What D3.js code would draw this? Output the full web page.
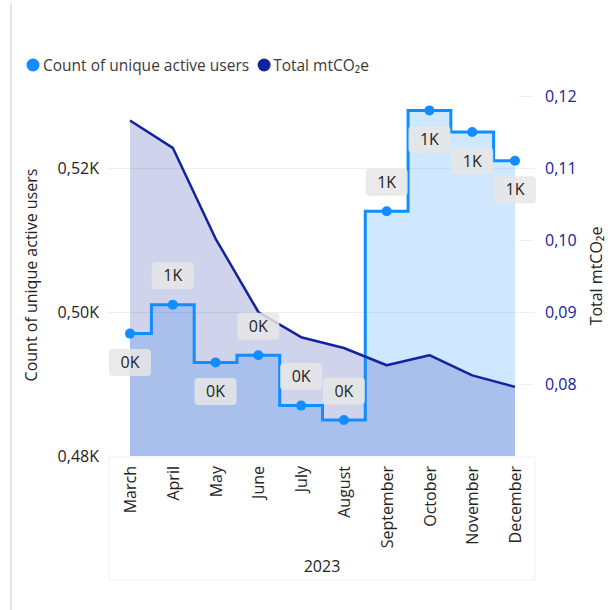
<!DOCTYPE html>
<html>
<head>
<meta charset="utf-8">
<script src="https://cdn.jsdelivr.net/npm/d3@7"></script>
<style>
  body { margin: 0; background: #fff; }
  svg { font-family: "Segoe UI", "Open Sans", sans-serif; }
</style>
</head>
<body>
<div id="chart"></div>
<script>
var width = 611,
  height = 610;

// data
var months = ["March", "April", "May", "June", "July", "August", "September", "October", "November", "December"];
var activeUsers = [497, 501, 493, 494, 487, 485, 514, 528, 525, 521];
var mtCO2e = [0.1166, 0.1128, 0.1002, 0.0900, 0.0865, 0.0850, 0.0826, 0.0840, 0.0812, 0.0796];
var yearLabel = "2023";
var leftTicks = [480, 500, 520];
var rightTicks = [0.08, 0.09, 0.10, 0.11, 0.12];
var seriesNames = ["Count of unique active users", "Total mtCO\u2082e"];

var labelSide = [1, -1, 1, -1, -1, -1, -1, 1, 1, 1]; // 1 = below point, -1 = above

var lightBlue = "#118DFF",
  navy = "#12239E";

var locale = d3.formatLocale({ decimal: ",", thousands: ".", grouping: [3], currency: ["", "€"] });
var f2 = locale.format(".2f");

var svg = d3.select("#chart").append("svg")
  .attr("width", width)
  .attr("height", height);

var x = d3.scalePoint().domain(months).range([130, 515]);
var yL = d3.scaleLinear().domain([480, 530]).range([456, 96]);
var yR = d3.scaleLinear().domain([0.07, 0.12]).range([456, 96]);

// frame bits
svg.append("line").attr("x1", 11).attr("x2", 11).attr("y1", 3).attr("y2", height)
  .attr("stroke", "#e6e6e6").attr("stroke-width", 2);
svg.append("rect").attr("x", 109).attr("y", 457).attr("width", 426).attr("height", 123)
  .attr("fill", "none").attr("stroke", "#f0f0f0").attr("stroke-width", 1);

// gridlines
svg.append("g").selectAll("line").data(leftTicks.slice(1)).enter().append("line")
  .attr("x1", 109).attr("x2", 535)
  .attr("y1", function (d) { return yL(d) + 0.5; }).attr("y2", function (d) { return yL(d) + 0.5; })
  .attr("stroke", "#eeeeee");
svg.append("g").selectAll("line").data(rightTicks).enter().append("line")
  .attr("x1", 519).attr("x2", 533)
  .attr("y1", function (d) { return yR(d) + 0.5; }).attr("y2", function (d) { return yR(d) + 0.5; })
  .attr("stroke", "#eeeeee");

// areas
var usersArea = d3.area()
  .x(function (d, i) { return x(months[i]); })
  .y0(yL(480))
  .y1(function (d) { return yL(d); })
  .curve(d3.curveStep);
var co2Area = d3.area()
  .x(function (d, i) { return x(months[i]); })
  .y0(yR(0.07))
  .y1(function (d) { return yR(d); });

svg.append("path").datum(activeUsers).attr("d", usersArea)
  .attr("fill", lightBlue).attr("fill-opacity", 0.2);
svg.append("path").datum(mtCO2e).attr("d", co2Area)
  .attr("fill", navy).attr("fill-opacity", 0.2);

// lines
var usersLine = d3.line()
  .x(function (d, i) { return x(months[i]); })
  .y(function (d) { return yL(d); })
  .curve(d3.curveStep);
var co2Line = d3.line()
  .x(function (d, i) { return x(months[i]); })
  .y(function (d) { return yR(d); });

svg.append("path").datum(activeUsers).attr("d", usersLine)
  .attr("fill", "none").attr("stroke", lightBlue).attr("stroke-width", 3);
svg.append("path").datum(mtCO2e).attr("d", co2Line)
  .attr("fill", "none").attr("stroke", navy).attr("stroke-width", 2.5).attr("stroke-linejoin", "round");

svg.append("g").selectAll("circle").data(activeUsers).enter().append("circle")
  .attr("cx", function (d, i) { return x(months[i]); })
  .attr("cy", function (d) { return yL(d); })
  .attr("r", 5)
  .attr("fill", lightBlue);

// data labels
var lab = svg.append("g").selectAll("g").data(activeUsers).enter().append("g")
  .attr("transform", function (d, i) {
    return "translate(" + x(months[i]) + "," + (yL(d) + labelSide[i] * 29) + ")";
  });
lab.append("rect").attr("x", -21).attr("y", -13.5).attr("width", 42).attr("height", 27).attr("rx", 4)
  .attr("fill", "#e6e6e6").attr("fill-opacity", 0.85);
lab.append("text").attr("text-anchor", "middle").attr("dy", "0.35em")
  .attr("font-size", 16).attr("fill", "#252423")
  .text(function (d) { return Math.round(d / 1000) + "K"; });

// axes
var axL = svg.append("g").attr("transform", "translate(99,0)")
  .call(d3.axisLeft(yL).tickValues(leftTicks).tickSize(0).tickPadding(0)
    .tickFormat(function (d) { return f2(d / 1000) + "K"; }));
axL.select(".domain").remove();
axL.selectAll("text").attr("font-size", 16).attr("fill", "#252423");

var axR = svg.append("g").attr("transform", "translate(545,0)")
  .call(d3.axisRight(yR).tickValues(rightTicks).tickSize(0).tickPadding(0).tickFormat(f2));
axR.select(".domain").remove();
axR.selectAll("text").attr("font-size", 16).attr("fill", navy);

var axB = svg.append("g").attr("transform", "translate(0,456)")
  .call(d3.axisBottom(x).tickSize(0));
axB.select(".domain").remove();
axB.selectAll("text")
  .attr("transform", "rotate(-90)")
  .attr("x", -10).attr("y", 0).attr("dy", "0.35em")
  .attr("text-anchor", "end")
  .attr("font-size", 16).attr("fill", "#252423");
svg.selectAll("g").attr("font-family", null);

svg.append("text").attr("x", 322).attr("y", 572).attr("text-anchor", "middle")
  .attr("font-size", 16).attr("fill", "#252423").text(yearLabel);

// axis titles
svg.append("text").attr("transform", "translate(37,275)rotate(-90)").attr("text-anchor", "middle")
  .attr("font-size", 16).attr("fill", "#252423").text(seriesNames[0]);
svg.append("text").attr("transform", "translate(602,276)rotate(-90)").attr("text-anchor", "middle")
  .attr("font-size", 16).attr("fill", "#252423").text(seriesNames[1]);

// legend
var legend = svg.append("g");
legend.append("circle").attr("cx", 33).attr("cy", 65).attr("r", 6.5).attr("fill", lightBlue);
var t1 = legend.append("text").attr("x", 43).attr("y", 70.5).attr("font-size", 15.5).attr("fill", "#3b3a39")
  .text(seriesNames[0]);
var lx = 43 + t1.node().getComputedTextLength() + 15;
legend.append("circle").attr("cx", lx).attr("cy", 65).attr("r", 6.5).attr("fill", navy);
legend.append("text").attr("x", lx + 9).attr("y", 70.5).attr("font-size", 15.5).attr("fill", "#3b3a39")
  .text(seriesNames[1]);
</script>
</body>
</html>
